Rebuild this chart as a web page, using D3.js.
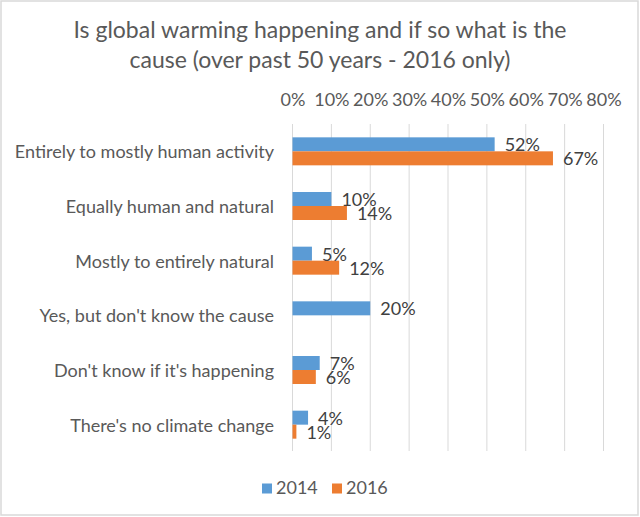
<!DOCTYPE html>
<html><head><meta charset="utf-8">
<script src="https://cdn.jsdelivr.net/npm/d3@7"></script>
<style>body{margin:0;background:#fff;} svg{display:block;font-family:Lato, "Open Sans", sans-serif;}</style>
</head><body>
<svg id="c" width="640" height="517"></svg>
<script>
const categories = ["Entirely to mostly human activity","Equally human and natural","Mostly to entirely natural","Yes, but don't know the cause","Don't know if it's happening","There's no climate change"];
const series = ["2014","2016"];
const values2014 = [52,10,5,20,7,4];
const values2016 = [67,14,12,null,6,1];
const ticks = [0,10,20,30,40,50,60,70,80];
const colors = ["#5b9bd5","#ed7d31"];
const titleLines = ["Is global warming happening and if so what is the","cause (over past 50 years - 2016 only)"];

const svg = d3.select("#c");
svg.append("rect").attr("x",1).attr("y",1).attr("width",637).attr("height",514)
  .attr("fill","#fff").attr("stroke","#d9d9d9").attr("stroke-width",1.5);

const x = d3.scaleLinear().domain([0,80]).range([292.5,603.5]);
const y = d3.scaleBand().domain(categories).range([124,452]);
const inner = d3.scaleBand().domain(series).range([0,28]);

// title
svg.append("g").selectAll("text").data(titleLines).join("text")
  .attr("x",320).attr("y",(d,i)=>38+i*29.5).attr("text-anchor","middle")
  .attr("fill","#595959").style("font-size","23px").text(d=>d);

// gridlines
svg.append("g").selectAll("line").data(ticks).join("line")
  .attr("x1",d=>x(d)).attr("x2",d=>x(d)).attr("y1",124).attr("y2",451)
  .attr("stroke","#d9d9d9").attr("stroke-width",1);

// top axis labels
const ax = svg.append("g").attr("transform","translate(0,106)")
  .call(d3.axisTop(x).tickValues(ticks).tickFormat(d=>d+"%").tickSize(0).tickPadding(0));
ax.select(".domain").remove();
ax.selectAll("text").attr("fill","#595959").style("font-size","18px").style("font-family","Lato, 'Open Sans', sans-serif");

// category labels
svg.append("g").selectAll("text").data(categories).join("text")
  .attr("x",274).attr("y",d=>y(d)+y.bandwidth()/2+7).attr("text-anchor","end")
  .attr("fill","#595959").style("font-size","18px").text(d=>d);

const rows = [];
categories.forEach((c,i)=>{
  [values2014[i],values2016[i]].forEach((v,j)=>{ if(v!=null) rows.push({c,s:series[j],v,j}); });
});
const barTop = d=> y(d.c)+ (y.bandwidth()-28)/2 + inner(d.s);

svg.append("g").selectAll("rect").data(rows).join("rect")
  .attr("x",x(0)).attr("y",barTop).attr("width",d=>x(d.v)-x(0)).attr("height",inner.bandwidth())
  .attr("fill",d=>colors[d.j]);

svg.append("g").selectAll("text").data(rows).join("text")
  .attr("x",d=>x(d.v)+10).attr("y",d=>barTop(d)+inner.bandwidth()/2+7)
  .attr("fill","#404040").style("font-size","18px").text(d=>d.v+"%");

// legend
const lg = svg.append("g");
const lx = [262,332];
series.forEach((s,i)=>{
  lg.append("rect").attr("x",lx[i]).attr("y",483.5).attr("width",10).attr("height",10).attr("fill",colors[i]);
  lg.append("text").attr("x",lx[i]+14).attr("y",494).attr("fill","#595959").style("font-size","18px").text(s);
});
</script>
</body></html>
